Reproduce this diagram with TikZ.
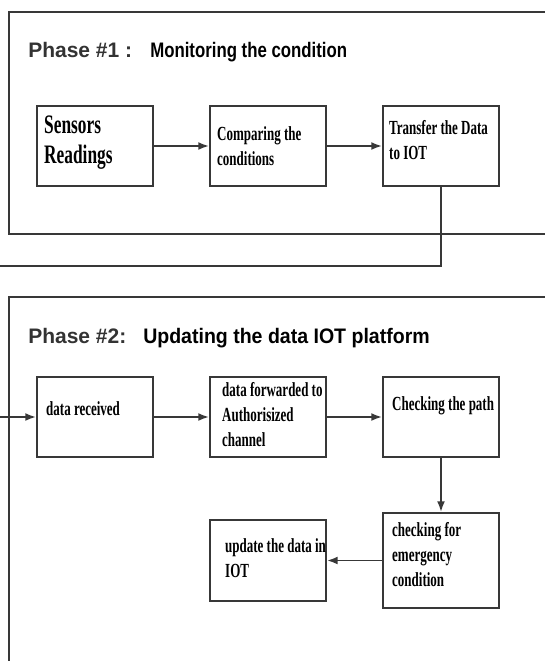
\documentclass[tikz,border=0pt]{standalone}
\usepackage{fontspec}
\setmainfont{Liberation Serif}
\newfontfamily\boxfont[FakeStretch=0.65]{Liberation Serif}
\newfontfamily\headfont{Liberation Sans}
\newfontfamily\headnarrow[FakeStretch=0.8]{Liberation Sans}
\newfontfamily\headbold[FakeStretch=0.93]{Liberation Sans}
\usetikzlibrary{arrows.meta}

\definecolor{linegray}{HTML}{383838}
\definecolor{titlegray}{HTML}{333333}

\tikzset{
    frame/.style={draw=linegray, line width=1.5pt},
    box/.style={draw=linegray, line width=1.6pt, minimum width=87pt, minimum height=60pt, inner sep=0pt},
    boxtext/.style={anchor=base west, inner sep=0pt, align=left,
        font=\boxfont\bfseries\fontsize{15}{18.75}\selectfont},
    heading/.style={anchor=base west, inner sep=0pt},
    link/.style={draw=linegray, line width=1.4pt},
    arr/.style={link, -{Latex[length=8pt,width=6pt]}}
}

\begin{document}
\begin{tikzpicture}[x=0.75pt, y=-0.75pt]
            \clip (0,0) rectangle (545,661);
            \fill[white] (0,0) rectangle (545,661);

            % phase 1
            \draw[frame] (9,12) rectangle (560,234);
            \node[heading, font=\headfont\bfseries\fontsize{15.75}{18}\selectfont, text=titlegray] (h1a) at (28,57) {Phase \#1 :};
            \node[heading, font=\headnarrow\bfseries\fontsize{15.75}{18}\selectfont] (h1b) at (150,57) {Monitoring the condition};

            \node[box] (s1) at (95,146) {};
            \node[box] (s2) at (268,146) {};
            \node[box] (s3) at (441,146) {};

            % base of the last line
            \node[boxtext, font=\boxfont\bfseries\fontsize{20}{22.5}\selectfont] (s1t) at ([shift={(8,59)}]s1.north west) {Sensors\\Readings};
            \node[boxtext] (s2t) at ([shift={(8,61)}]s2.north west) {Comparing the\\conditions};
            \node[boxtext] (s3t) at ([shift={(7,55)}]s3.north west) {Transfer the Data\\to IOT};

            \draw[arr] (s1) -- (s2);
            \draw[arr] (s2) -- (s3);

            \coordinate (exit) at (0,266);
            \draw[link] (s3) -- (s3 |- exit) -- (exit);

            % phase 2
            \draw[frame] (9,297) rectangle (560,700);
            \node[heading, font=\headfont\bfseries\fontsize{15.75}{18}\selectfont, text=titlegray] (h2a) at (28,343) {Phase \#2:};
            \node[heading, font=\headbold\bfseries\fontsize{15.75}{18}\selectfont] (h2b) at (143,343) {Updating the data IOT platform};

            \node[box] (r1) at (95,417) {};
            \node[box] (r2) at (268,417) {};
            \node[box] (r3) at (441,417) {};
            \node[box, minimum height=71.25pt] (r4) at (441,560.5) {};
            \node[box, minimum height=60.75pt] (r5) at (268,560.5) {};

            \node[boxtext] (r1t) at ([shift={(10,40)}]r1.north west) {data received};
            \node[boxtext] (r2t) at ([shift={(13,71)}]r2.north west) {data forwarded to\\Authorisized\\channel};
            \node[boxtext] (r3t) at ([shift={(10,35)}]r3.north west) {Checking the path};
            \node[boxtext] (r4t) at ([shift={(10,75)}]r4.north west) {checking for\\emergency\\condition};
            \node[boxtext] (r5t) at ([shift={(16,59)}]r5.north west) {update the data in\\IOT};

            \coordinate (entry) at (0,417);
            \draw[arr] (entry) -- (r1);
            \draw[arr] (r1) -- (r2);
            \draw[arr] (r2) -- (r3);
            \draw[arr] (r3) -- (r4);
            \draw[arr] (r4) -- (r5);
\end{tikzpicture}
\end{document}
